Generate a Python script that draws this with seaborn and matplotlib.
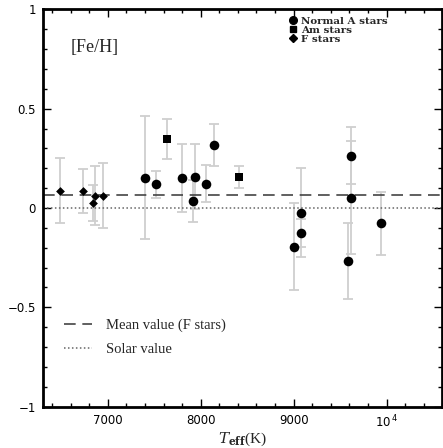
import pandas as pd
import numpy as np
import matplotlib
matplotlib.use("Agg")
import matplotlib.pyplot as plt
import seaborn as sns
from matplotlib.ticker import MultipleLocator, FixedLocator, FixedFormatter
from matplotlib.lines import Line2D

# Star data
teff = [6490, 6730, 6838, 6866, 6949,
        7398, 7516, 7799, 7915, 7939, 8058, 8144, 9005, 9084, 9084, 9586, 9619, 9619, 9945,
        7634, 8413]
feh = [0.087, 0.086, 0.027, 0.062, 0.062,
       0.153, 0.119, 0.151, 0.035, 0.158, 0.121, 0.317, -0.195, -0.023, -0.127, -0.265, 0.263, 0.052, -0.077,
       0.348, 0.158]
err = [0.165, 0.11, 0.09, 0.15, 0.165,
       0.31, 0.067, 0.172, 0.107, 0.163, 0.093, 0.104, 0.218, 0.225, 0.07, 0.192, 0.143, 0.283, 0.16,
       0.10, 0.055]
star_type = ["F stars"] * 5 + ["Normal A stars"] * 14 + ["Am stars"] * 2

mean_f = 0.065
solar = 0.0

df = pd.DataFrame({"teff": teff, "feh": feh, "err": err, "type": star_type})

sns.set_style("ticks")
plt.rcParams["font.family"] = ["DejaVu Sans"]
plt.rcParams["mathtext.fontset"] = "dejavuserif"
serif = ["Liberation Serif", "DejaVu Serif"]

fig = plt.figure(figsize=(4.43, 4.48), dpi=100)
ax = fig.add_axes([42.7 / 443, 1 - 406.7 / 448, 399.6 / 443, 397.4 / 448])

# error bars first, light grey
ax.errorbar(df["teff"], df["feh"], yerr=df["err"], fmt="none", ecolor="#cfcfcf",
            elinewidth=1.3, capsize=3.5, capthick=1.3, zorder=1)

ax.axhline(mean_f, color="#444444", lw=1.2, dashes=(7, 4), zorder=2)
ax.axhline(solar, color="#666666", lw=1.1, dashes=(1, 1.6), zorder=2)

markers = {"Normal A stars": "o", "Am stars": "s", "F stars": "D"}
sizes = {"Normal A stars": 48, "Am stars": 30, "F stars": 20}
for t in ["Normal A stars", "Am stars", "F stars"]:
    sub = df[df["type"] == t]
    sns.scatterplot(data=sub, x="teff", y="feh", marker=markers[t], s=sizes[t],
                    color="black", edgecolor="black", linewidth=0, ax=ax, zorder=3)

ax.set_xlim(6300, 10600)
ax.set_ylim(-1, 1)

ax.xaxis.set_major_locator(FixedLocator([7000, 8000, 9000, 10000]))
ax.xaxis.set_major_formatter(FixedFormatter(["7000", "8000", "9000", "10$^{\\,\\mathsf{4}}$"]))
ax.xaxis.set_minor_locator(MultipleLocator(200))
ax.yaxis.set_major_locator(FixedLocator([-1, -0.5, 0, 0.5, 1]))
ax.yaxis.set_major_formatter(FixedFormatter(["\u22121", "\u22120.5", "0", "0.5", "1"]))
ax.yaxis.set_minor_locator(MultipleLocator(0.1))

ax.tick_params(which="both", direction="in", top=True, right=True, width=1, colors="black",
               labelsize=8.5)
ax.tick_params(which="major", length=6)
ax.tick_params(which="minor", length=3)
ax.tick_params(axis="x", pad=5)
ax.tick_params(axis="y", pad=5)
for sp in ax.spines.values():
    sp.set_linewidth(2)
    sp.set_color("black")

ax.set_xlabel(r"$T_{\mathbf{eff}}$(K)", family=serif, fontsize=11, labelpad=0)
ax.set_ylabel("")

ax.text(0.07, 0.905, "[Fe/H]", transform=ax.transAxes, family=serif, fontsize=13,
        va="center", ha="left")

# marker legend (upper right)
mk_handles = [Line2D([], [], ls="none", marker="o", color="black", ms=5.5),
              Line2D([], [], ls="none", marker="s", color="black", ms=4.5),
              Line2D([], [], ls="none", marker="D", color="black", ms=3.6)]
leg1 = ax.legend(mk_handles, ["Normal A stars", "Am stars", "F stars"], loc="upper left",
                 bbox_to_anchor=(0.605, 0.995), frameon=False, handlelength=0.6,
                 handletextpad=0.55, labelspacing=0.0, borderpad=0.0,
                 prop={"family": ["DejaVu Serif"], "size": 7.4, "weight": "bold"})
ax.add_artist(leg1)

ln_handles = [Line2D([], [], color="#444444", lw=1.2, dashes=(7, 4)),
              Line2D([], [], color="#666666", lw=1.1, dashes=(1, 1.6))]
ax.legend(ln_handles, ["Mean value (F stars)", "Solar value"], loc="upper left",
          bbox_to_anchor=(0.02, 0.255), frameon=False, handlelength=1.9,
          handletextpad=1.0, labelspacing=0.75, prop={"family": serif, "size": 10.5})

fig.savefig("out.png", dpi=100)
